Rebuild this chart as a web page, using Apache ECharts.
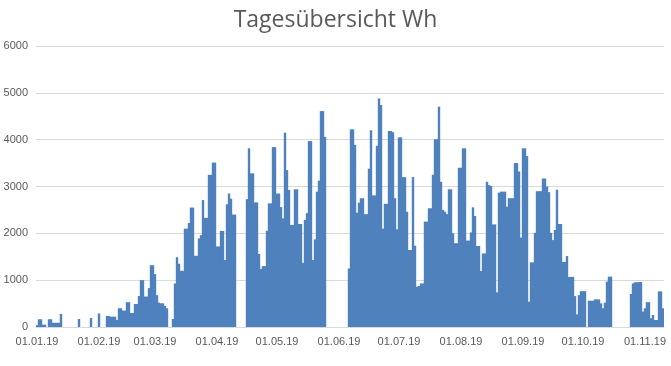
<!DOCTYPE html>
<html>
<head>
<meta charset="utf-8">
<script src="https://cdn.jsdelivr.net/npm/echarts@6/dist/echarts.min.js"></script>
<style>
html,body{margin:0;padding:0;background:#fff;}
#chart{width:671px;height:366px;}
</style>
</head>
<body>
<div id="chart"></div>
<script>
const chartTitle = 'Tagesübersicht Wh';
const startYear = 2019;
const yTicks = [0, 1000, 2000, 3000, 4000, 5000, 6000];
const monthTickLabels = ['01.01.19','01.02.19','01.03.19','01.04.19','01.05.19','01.06.19','01.07.19','01.08.19','01.09.19','01.10.19','01.11.19'];

const jan = [40,165,165,50,50,0,165,165,90,90,90,90,280,0,0,0,0,0,0,0,0,170,0,0,0,0,0,190,0,0,0];
const feb = [290,0,0,0,235,235,220,220,220,150,400,400,350,350,530,530,300,300,490,490,660,1000,1000,650,650,830,1320,1320];
const mar = [1130,680,520,505,505,450,400,0,0,170,930,1490,1350,1200,1200,2100,2100,2220,2550,2550,1520,1520,1890,1960,2710,2330,2330,3250,3250,3510,3510];
const apr = [1720,1720,2050,2050,1430,2620,2850,2740,2400,2400,0,0,0,0,0,2730,3815,3280,3280,2660,2660,1560,1240,1300,1300,2055,2640,2640,3840,3840];
const may = [2850,2850,2560,2320,4150,3350,2925,2180,2180,2940,2940,2200,2200,1370,2285,2430,3970,3970,1430,1870,2890,3125,4610,4610,4060,0,0,0,0,0,0];
const jun = [0,0,0,0,0,1250,4220,4220,3890,2440,2655,2750,2750,2410,2410,3380,4200,2810,2810,3870,4880,4740,2100,2630,2630,4185,4185,4160,2750,2085];
const jul = [4050,4050,3200,3200,2460,1645,1645,3200,1735,860,875,930,930,2250,2250,2535,2535,3250,4010,4010,4705,3100,2500,2460,2410,2940,2940,2000,1790,1790,3400];
const aug = [3400,3815,3815,1845,1845,2020,2555,2370,1730,1730,1195,1570,1570,3100,3030,3010,2190,2190,740,2870,2890,2890,2890,2570,2750,2750,2750,3500,3500,3320,1910];
const sep = [3815,3815,3650,540,1380,1380,2010,2900,2900,2900,3170,3170,3000,2880,2010,1855,2070,2930,2200,2200,1390,1390,1515,1070,1070,1070,660,270,680,765];
const oct = [765,765,0,560,560,560,590,590,590,505,400,520,970,1075,1075,0,0,0,0,0,0,0,0,0,705,930,955,955,960,960,330];
const nov = [400,530,530,185,255,150,150,760,760,400];

const values = [].concat(jan, feb, mar, apr, may, jun, jul, aug, sep, oct, nov);

// one category per day, starting 01.01.19
const categories = [];
for (let i = 0; i < values.length; i++) {
  const d = new Date(startYear, 0, 1 + i);
  const dd = String(d.getDate()).padStart(2, '0');
  const mm = String(d.getMonth() + 1).padStart(2, '0');
  const yy = String(d.getFullYear()).slice(2);
  categories.push(dd + '.' + mm + '.' + yy);
}

const chart = echarts.init(document.getElementById('chart'), null, {renderer: 'canvas'});
chart.setOption({
  animation: false,
  backgroundColor: '#ffffff',
  title: {
    text: chartTitle,
    left: 'center',
    top: 4,
    textStyle: {fontFamily: 'Open Sans', fontWeight: 'normal', fontSize: 23, color: '#595959'}
  },
  grid: {left: 36, right: 7, top: 46, bottom: 39, containLabel: false},
  xAxis: {
    type: 'category',
    data: categories,
    boundaryGap: true,
    axisLine: {show: true, lineStyle: {color: '#d9d9d9', width: 1}},
    axisTick: {show: false},
    axisLabel: {
      interval: function (idx, val) { return monthTickLabels.indexOf(val) >= 0; },
      color: '#595959',
      fontFamily: 'Liberation Sans',
      fontSize: 11,
      margin: 9,
      hideOverlap: false
    },
    splitLine: {show: false}
  },
  yAxis: {
    type: 'value',
    min: yTicks[0],
    max: yTicks[yTicks.length - 1],
    interval: 1000,
    axisLine: {show: false},
    axisTick: {show: false},
    axisLabel: {color: '#595959', fontFamily: 'Liberation Sans', fontSize: 11, margin: 8,
      formatter: function (v) { return String(v); }},
    splitLine: {lineStyle: {color: '#d9d9d9', width: 1}}
  },
  series: [{
    type: 'bar',
    data: values,
    barCategoryGap: '0%',
    barWidth: 2.4,
    itemStyle: {color: '#4f81bd'}
  }]
});
</script>
</body>
</html>
